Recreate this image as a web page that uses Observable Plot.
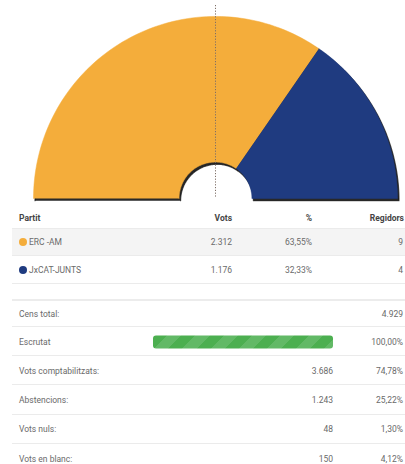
<!DOCTYPE html>
<html><head><meta charset="utf-8">
<script src="https://cdn.jsdelivr.net/npm/d3@7"></script>
<script src="https://cdn.jsdelivr.net/npm/@observablehq/plot@0.6"></script>
<style>
body{margin:0;background:#fff;font-family:Roboto,"Noto Sans",sans-serif;}
#wrap{position:relative;width:405px;height:464px;overflow:hidden;background:#fff}
#chart{position:absolute;left:0;top:0}
.row{position:absolute;left:12px;width:393px;height:28px;font-size:8.5px;color:#6a6a6a;box-sizing:border-box;border-bottom:1px solid #ebebeb}
.c{position:absolute;top:50%;transform:translateY(-50%);white-space:nowrap}
.hd{font-weight:bold;color:#444;border-bottom:none}
.dot{position:absolute;top:50%;width:8px;height:8px;border-radius:50%;transform:translateY(-50%)}
.bar{position:absolute;top:50%;transform:translateY(-50%);height:13px;border-radius:3px;
 background:repeating-linear-gradient(135deg,#4caf50 0 10px,#62b966 10px 20px)}
</style></head>
<body><div id="wrap"><div id="chart"></div></div>
<script>
// Data
const parties = ["ERC -AM", "JxCAT-JUNTS"];
const partyColors = ["#f4ad3b", "#1f3b80"];
const votes = ["2.312", "1.176"];
const votePct = ["63,55%", "32,33%"];
const seats = [9, 4];
const headers = ["Partit", "Vots", "%", "Regidors"];
const statLabels = ["Cens total:", "Escrutat", "Vots comptabilitzats:", "Abstencions:", "Vots nuls:", "Vots en blanc:"];
const statValues = ["", "", "3.686", "1.243", "48", "150"];
const statPcts = ["4.929", "100,00%", "74,78%", "25,22%", "1,30%", "4,12%"];
const escrutat = 100;

// Build hemicycle polygons from seat counts
const total = d3.sum(seats);
const inner = 0.2, outer = 1;
const pts = [];
let acc = 0;
seats.forEach((s, i) => {
  const a0 = Math.PI - (acc / total) * Math.PI;
  const a1 = Math.PI - ((acc + s) / total) * Math.PI;
  const n = 80;
  for (let k = 0; k <= n; k++) {
    const a = a0 + (a1 - a0) * k / n;
    pts.push({party: parties[i], x: outer * Math.cos(a), y: outer * Math.sin(a)});
  }
  for (let k = n; k >= 0; k--) {
    const a = a0 + (a1 - a0) * k / n;
    pts.push({party: parties[i], x: inner * Math.cos(a), y: inner * Math.sin(a)});
  }
  acc += s;
});

const plot = Plot.plot({
  width: 405, height: 204,
  marginLeft: 33, marginRight: 8, marginTop: 5, marginBottom: 6,
  x: {domain: [-1, 1], axis: null},
  y: {domain: [0, 1.06], axis: null},
  color: {domain: parties, range: partyColors},
  marks: [
    Plot.line(pts, {x: "x", y: "y", z: "party", fill: "#111", stroke: "#111", strokeWidth: 1.2, dx: 1.5, dy: 2.2, fillOpacity: 0.9, strokeOpacity: 0.7}),
    Plot.line(pts, {x: "x", y: "y", z: "party", fill: "party", stroke: "party", strokeWidth: 0.5}),
    Plot.ruleX([0], {stroke: "#7d6e66", strokeDasharray: "1.2,1.6", strokeWidth: 1})
  ]
});
plot.style.overflow = "visible";
document.getElementById("chart").appendChild(plot);

const wrap = document.getElementById("wrap");
function row(center, cls) {
  const r = document.createElement("div");
  r.className = "row " + (cls || "");
  r.style.top = (center - 14) + "px";
  wrap.appendChild(r);
  return r;
}
function cell(r, text, left, right) {
  const c = document.createElement("div");
  c.className = "c";
  c.textContent = text;
  if (left != null) c.style.left = (left - 12) + "px";
  else c.style.right = (405 - right) + "px";
  r.appendChild(c);
  return c;
}
// Header
const h = row(218, "hd");
cell(h, headers[0], 19);
cell(h, headers[1], null, 232);
cell(h, headers[2], null, 312);
cell(h, headers[3], null, 404);
// Party rows
const partyCenters = [242, 270];
parties.forEach((p, i) => {
  const r = row(partyCenters[i]);
  if (i === 0) { r.style.background = "#f4f4f4"; r.style.borderTop = "1px solid #ebebeb"; }
  const d = document.createElement("div");
  d.className = "dot"; d.style.left = (19 - 12) + "px"; d.style.background = partyColors[i];
  r.appendChild(d);
  cell(r, p, 29);
  cell(r, votes[i], null, 232);
  cell(r, votePct[i], null, 312);
  cell(r, String(seats[i]), null, 403);
});
// Stats rows
statLabels.forEach((lab, i) => {
  const r = row(313 + i * 29.2);
  if (i === 0) r.style.borderTop = "2px solid #ececec";
  cell(r, lab, 19);
  if (statValues[i]) cell(r, statValues[i], null, 333);
  if (lab === "Escrutat") {
    const b = document.createElement("div");
    b.className = "bar";
    b.style.left = (153 - 12) + "px";
    b.style.width = (180 * escrutat / 100) + "px";
    r.appendChild(b);
  }
  cell(r, statPcts[i], null, 403);
});
</script>
</body></html>
